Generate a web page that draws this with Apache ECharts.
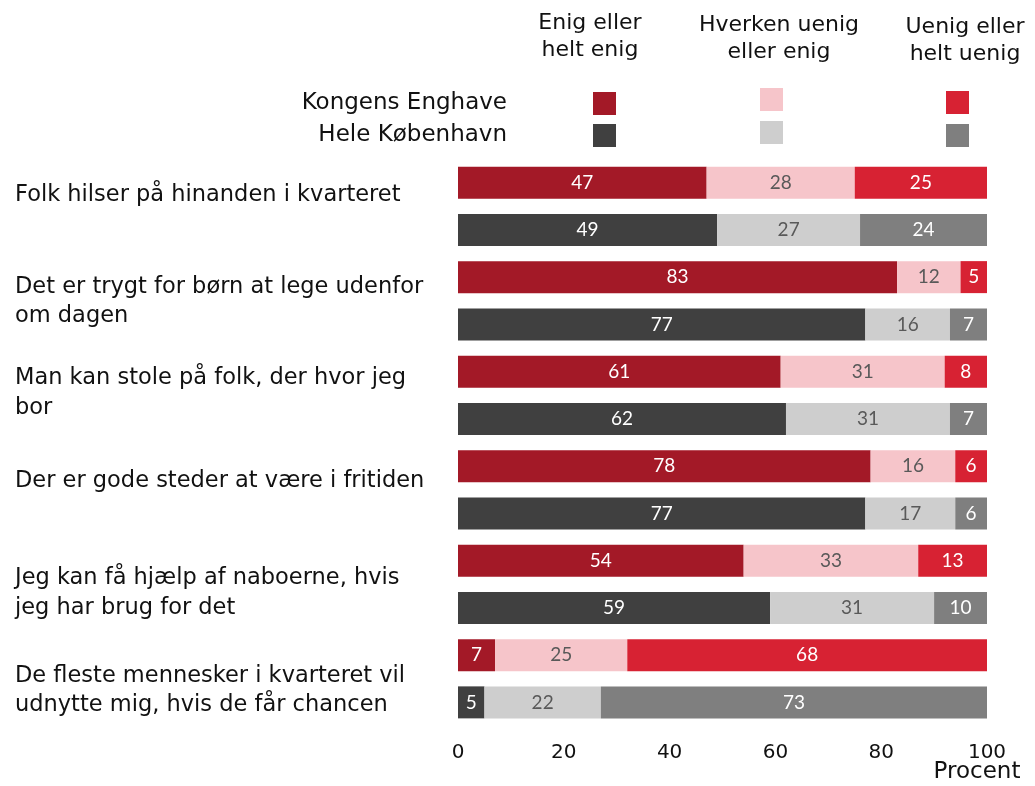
<!DOCTYPE html>
<html>
<head>
<meta charset="utf-8">
<script src="https://cdn.jsdelivr.net/npm/echarts@6/dist/echarts.min.js"></script>
<style>
  html, body { margin: 0; padding: 0; background: #ffffff; }
  #chart { width: 1035px; height: 786px; }
</style>
</head>
<body>
<div id="chart"></div>
<script>
// Survey statements (one pair of bars per statement)
const statements = [
  'Folk hilser på hinanden i kvarteret',
  'Det er trygt for børn at lege udenfor\nom dagen',
  'Man kan stole på folk, der hvor jeg\nbor',
  'Der er gode steder at være i fritiden',
  'Jeg kan få hjælp af naboerne, hvis\njeg har brug for det',
  'De fleste mennesker i kvarteret vil\nudnytte mig, hvis de får chancen'
];
const groups = ['Kongens Enghave', 'Hele København'];
const answers = ['Enig eller\nhelt enig', 'Hverken uenig\neller enig', 'Uenig eller\nhelt uenig'];

// Shares in percent
const enigKE      = [47, 83, 61, 78, 54, 7];
const enigKBH     = [49, 77, 62, 77, 59, 5];
const hverkenKE   = [28, 12, 31, 16, 33, 25];
const hverkenKBH  = [27, 16, 31, 17, 31, 22];
const uenigKE     = [25, 5, 8, 6, 13, 68];
const uenigKBH    = [24, 7, 7, 6, 10, 73];

const xTicks = [0, 20, 40, 60, 80, 100];

// Colours: [Kongens Enghave, Hele København] per answer
const palette = [
  ['#A31927', '#404040'],
  ['#F6C5CA', '#CECECE'],
  ['#D72233', '#7F7F7F']
];
const labelColors = ['#ffffff', '#595959', '#ffffff'];

const FONT = '"DejaVu Sans", "Noto Sans", sans-serif';
const NUMFONT = 'Lato, "Noto Sans", sans-serif';

// Vertical nudge (px) of each statement label from the middle of its pair of bars
const statementShift = [-12, 0, -3, -10, 8, 11];

// Interleave rows: statement i -> [KE, KBH]
const rowKeys = [];
statements.forEach((s, i) => { rowKeys.push(i + '-KE'); rowKeys.push(i + '-KBH'); });

function interleave(a, b, answerIdx) {
  const out = [];
  for (let i = 0; i < a.length; i++) {
    out.push({ value: a[i], itemStyle: { color: palette[answerIdx][0] } });
    out.push({ value: b[i], itemStyle: { color: palette[answerIdx][1] } });
  }
  return out;
}

const seriesData = [
  interleave(enigKE, enigKBH, 0),
  interleave(hverkenKE, hverkenKBH, 1),
  interleave(uenigKE, uenigKBH, 2)
];

const series = seriesData.map((d, k) => ({
  type: 'bar',
  stack: 'total',
  barWidth: 32,
  data: d,
  label: {
    show: true,
    position: 'inside',
    color: labelColors[k],
    fontFamily: NUMFONT,
    fontSize: 19
  },
  emphasis: { disabled: true },
  animation: false
}));

// Legend built as graphic elements
const colX = [590, 779, 965];
const colY = [37, 39, 41];
const legendGraphics = [];
answers.forEach((a, k) => {
  legendGraphics.push({
    type: 'text',
    x: colX[k], y: colY[k],
    style: {
      text: a, font: '22px ' + FONT, fill: '#111111',
      align: 'center', verticalAlign: 'middle', lineHeight: 27
    }
  });
});
const sqX = [593, 760, 946];
const sqY = [[92, 124], [88, 121], [91, 124]];
groups.forEach((g, r) => {
  legendGraphics.push({
    type: 'text',
    x: 507, y: r === 0 ? 103.5 : 135,
    style: {
      text: g, font: '23px ' + FONT, fill: '#111111',
      align: 'right', verticalAlign: 'middle'
    }
  });
  for (let k = 0; k < 3; k++) {
    legendGraphics.push({
      type: 'rect',
      shape: { x: sqX[k], y: sqY[k][r], width: 23, height: 23 },
      style: { fill: palette[k][r] }
    });
  }
});
legendGraphics.push({
  type: 'text',
  x: 977, y: 772,
  style: {
    text: 'Procent', font: '23px ' + FONT, fill: '#111111',
    align: 'center', verticalAlign: 'middle'
  }
});

const chart = echarts.init(document.getElementById('chart'), null, { renderer: 'canvas' });
chart.setOption({
  backgroundColor: '#ffffff',
  animation: false,
  grid: {
    left: 458, right: 48, top: 159, bottom: 60,
    containLabel: false, outerBoundsMode: 'none'
  },
  xAxis: {
    type: 'value',
    min: xTicks[0],
    max: xTicks[xTicks.length - 1],
    interval: xTicks[1] - xTicks[0],
    axisLine: { show: false },
    axisTick: { show: false },
    splitLine: { show: false },
    axisLabel: { color: '#111111', fontFamily: FONT, fontSize: 20, margin: 17 }
  },
  yAxis: {
    type: 'category',
    data: rowKeys,
    inverse: true,
    axisLine: { show: false },
    axisTick: { show: false },
    axisLabel: { show: false }
  },
  series: series,
  graphic: legendGraphics
});

// Statement labels, placed at the middle of each pair of bars on the category axis
const statementGraphics = statements.map((s, i) => {
  const y1 = chart.convertToPixel({ yAxisIndex: 0 }, rowKeys[2 * i]);
  const y2 = chart.convertToPixel({ yAxisIndex: 0 }, rowKeys[2 * i + 1]);
  return {
    type: 'text',
    x: 15,
    y: (y1 + y2) / 2 + statementShift[i] + 1,
    style: {
      text: s, font: '22.5px ' + FONT, fill: '#111111',
      align: 'left', verticalAlign: 'middle', lineHeight: 29.5
    }
  };
});
chart.setOption({ graphic: legendGraphics.concat(statementGraphics) });
</script>
</body>
</html>
